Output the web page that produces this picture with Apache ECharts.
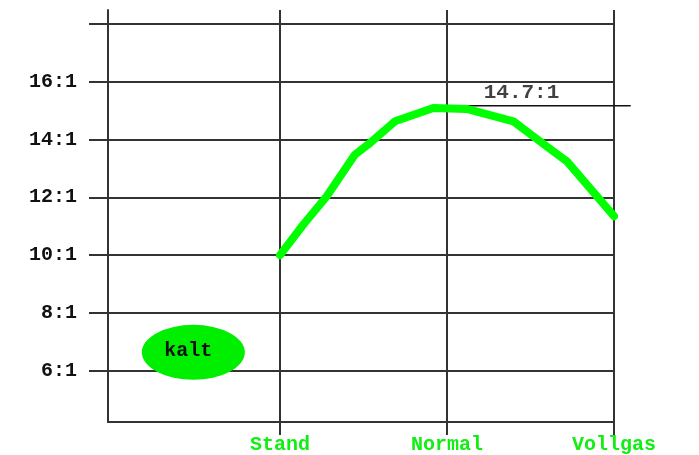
<!DOCTYPE html>
<html><head><meta charset="utf-8">
<script src="https://cdn.jsdelivr.net/npm/echarts@6/dist/echarts.min.js"></script>
<style>html,body{margin:0;padding:0;background:#fff}#c{width:699px;height:455px}</style>
</head><body><div id="c"></div>
<script>
const xLabels = ['Stand', 'Normal', 'Vollgas'];
const xTickPos = [1, 2, 3];
const yTicks = [6, 8, 10, 12, 14, 16, 18];
const yLabelTicks = [6, 8, 10, 12, 14, 16];
const curveX = [1, 1.14, 1.28, 1.449, 1.539, 1.689, 1.918, 2.118, 2.397, 2.477, 2.637, 2.717, 3];
const curveY = [10, 11.06, 12.04, 13.48, 13.88, 14.63, 15.09, 15.06, 14.63, 14.28, 13.59, 13.25, 11.35];
const refLabel = '14.7:1';
const refY = 15.18;
const refX = [1.968, 3.1];
const refLabelX = 2.446;
const coldLabel = 'kalt';
const coldPos = [0.481, 6.64];

const FONT = "'Liberation Mono', 'DejaVu Sans Mono', monospace";
const GRID_COLOR = '#333';
const X_MIN = -0.03, X_MAX = 3, X_MAX_EXT = 3.1;
const Y_MIN = 4.23, Y_MAX = 18.48;

const chart = echarts.init(document.getElementById('c'), null, {renderer: 'canvas'});
chart.setOption({
  backgroundColor: '#fff',
  animation: false,
  grid: [
    {left: 108, right: 85, top: 10, bottom: 32, containLabel: false},
    {left: 108, right: 68.3, top: 10, bottom: 32, containLabel: false}
  ],
  xAxis: [{
    type: 'value', min: X_MIN, max: X_MAX, gridIndex: 0,
    axisLine: {show: true, onZero: false, lineStyle: {color: GRID_COLOR, width: 2}},
    axisTick: {show: true, customValues: xTickPos, length: 13, inside: false, lineStyle: {color: GRID_COLOR, width: 2}},
    axisLabel: {show: true, customValues: xTickPos, margin: 13, color: '#11ee11', fontFamily: FONT, fontWeight: 'bold', fontSize: 20,
      formatter: v => xLabels[Math.round(v) - 1] || ''},
    splitLine: {show: true, customValues: xTickPos, lineStyle: {color: GRID_COLOR, width: 2}}
  }, {
    type: 'value', min: X_MIN, max: X_MAX_EXT, gridIndex: 1, show: false
  }],
  yAxis: [{
    type: 'value', min: Y_MIN, max: Y_MAX, gridIndex: 0,
    axisLine: {show: true, onZero: false, lineStyle: {color: GRID_COLOR, width: 2}},
    axisTick: {show: true, customValues: yTicks, length: 19, inside: false, lineStyle: {color: GRID_COLOR, width: 2}},
    axisLabel: {show: true, customValues: yLabelTicks, margin: 31, color: '#111', fontFamily: FONT, fontWeight: 'bold', fontSize: 20,
      formatter: v => v + ':1'},
    splitLine: {show: true, customValues: yTicks, lineStyle: {color: GRID_COLOR, width: 2}}
  }, {
    type: 'value', min: Y_MIN, max: Y_MAX, gridIndex: 1, show: false
  }],
  series: [
    {
      type: 'line', data: curveX.map((x, i) => [x, curveY[i]]),
      symbol: 'none', smooth: false, xAxisIndex: 0, yAxisIndex: 0,
      lineStyle: {color: '#00ff00', width: 8, cap: 'round', join: 'round'},
      z: 5
    },
    {
      type: 'line', data: refX.map(x => [x, refY]), symbol: 'none', clip: false,
      xAxisIndex: 1, yAxisIndex: 1,
      lineStyle: {color: '#111', width: 1.5}, z: 4
    },
    {
      type: 'scatter', data: [[refLabelX, refY]], symbolSize: 0, clip: false,
      xAxisIndex: 0, yAxisIndex: 0,
      label: {show: true, position: 'top', distance: 2, formatter: refLabel, color: '#111', fontFamily: FONT, fontWeight: 'bold', fontSize: 21},
      z: 6
    },
    {
      type: 'scatter', data: [coldPos], symbol: 'circle', symbolSize: [103, 55],
      xAxisIndex: 0, yAxisIndex: 0,
      itemStyle: {color: '#00ee00', opacity: 1},
      label: {show: true, position: 'inside', offset: [-5, -1], formatter: coldLabel, color: '#111', fontFamily: FONT, fontWeight: 'bold', fontSize: 20},
      z: 6
    }
  ]
});
</script></body></html>
